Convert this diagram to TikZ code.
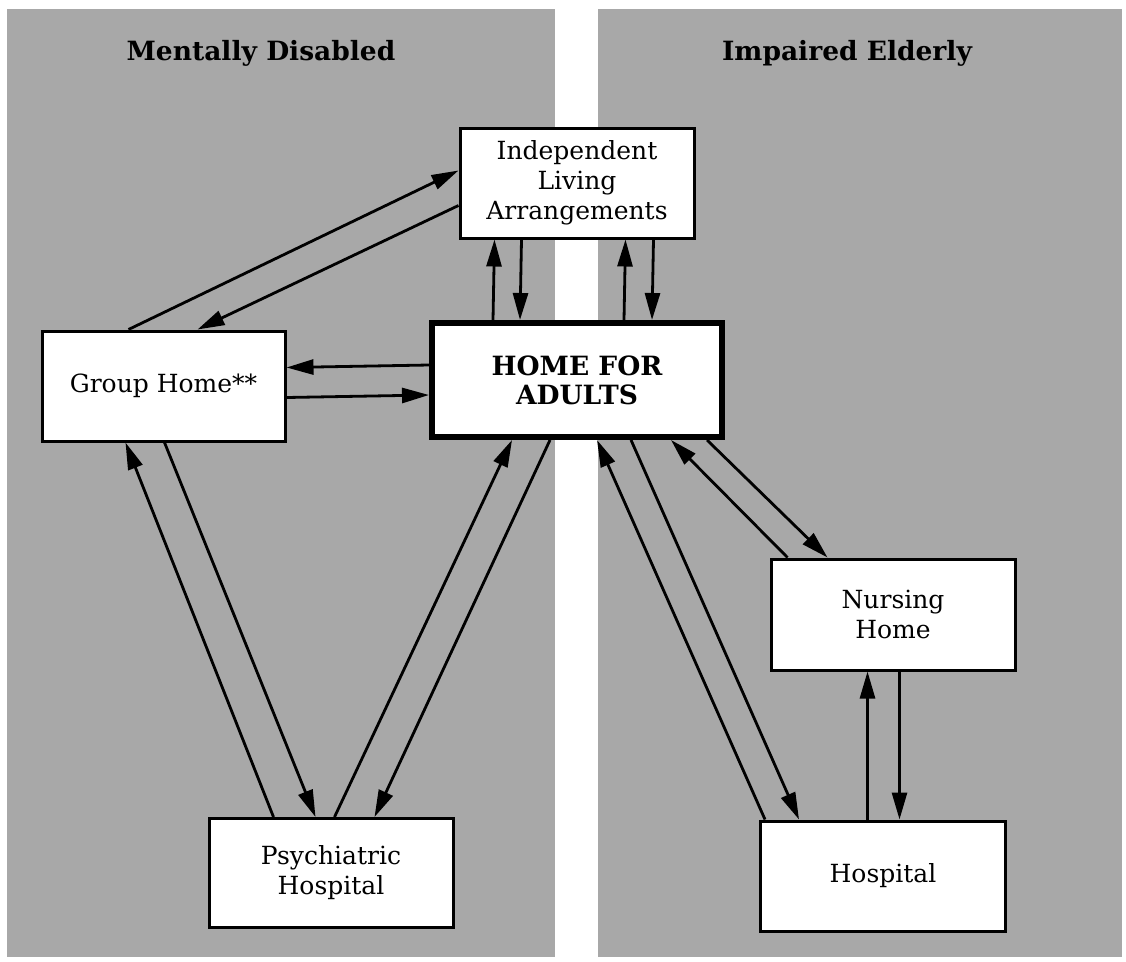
\documentclass[tikz,border=0pt]{standalone}
\usepackage{fontspec}
\setmainfont{DejaVu Serif}
\usetikzlibrary{arrows.meta,calc}
\definecolor{panelgray}{RGB}{168,168,168}
\tikzset{
  panel/.style={fill=panelgray,draw=none},
  box/.style={draw=black,fill=white,line width=3pt,align=center,inner sep=0pt,
    font=\fontsize{25}{30}\selectfont},
  mainbox/.style={box,line width=6pt,font=\bfseries\fontsize{26.5}{29}\selectfont},
  title/.style={font=\bfseries\fontsize{26.5}{30}\selectfont},
  arr/.style={line width=2.8pt,-{Triangle[length=27pt,width=15pt]}}
}
\begin{document}
\begin{tikzpicture}[x=1pt,y=-1pt]
\useasboundingbox (0,0) rectangle (1126,961);
\fill[white] (0,0) rectangle (1126,961);
\path[panel] (7,9) rectangle (555,957);
\path[panel] (598,9) rectangle (1122,957);

\node[title] (tl) at (261,53) {Mentally Disabled};
\node[title] (tr) at (847,53) {Impaired Elderly};

\node[box,minimum width=234pt,minimum height=110pt] (indep) at (577,183) {Independent\\Living\\Arrangements};
\node[mainbox,minimum width=290pt,minimum height=114pt] (home) at (577,380) {HOME FOR\\ADULTS};
\node[box,minimum width=243pt,minimum height=110pt] (gh) at (163.5,386) {Group Home**};
\node[box,minimum width=244pt,minimum height=109pt] (psych) at (331,873) {Psychiatric\\Hospital};
\node[box,minimum width=245pt,minimum height=110pt] (hosp) at (883,876) {Hospital};
\node[box,minimum width=244pt,minimum height=111pt] (nurse) at (893,614.5) {Nursing\\Home};

% Group home <-> Independent living
\draw[arr] ($(gh.north west)+(88,0)$) -- ($(indep.north west)+(0,44)$);
\draw[arr] ($(indep.north west)+(0,79)$) -- ($(gh.north west)+(157,0)$);
% Home for adults <-> Group home
\draw[arr] ($(home.north west)+(0,45)$) -- ($(gh.north east)+(0,38)$);
\draw[arr] ($(gh.north east)+(0,68)$) -- ($(home.north west)+(0,75)$);
% Home for adults <-> Independent living
\draw[arr] ($(home.north west)+(64,0)$) -- ($(indep.south west)+(36,0)$);
\draw[arr] ($(indep.south west)+(63,0)$) -- ($(home.north west)+(91,0)$);
\draw[arr] ($(home.north west)+(195,0)$) -- ($(indep.south west)+(167,0)$);
\draw[arr] ($(indep.south west)+(195,0)$) -- ($(home.north west)+(223,0)$);
% Psychiatric hospital <-> Group home
\draw[arr] ($(psych.north west)+(66,0)$) -- ($(gh.south west)+(85,0)$);
\draw[arr] ($(gh.south west)+(124,0)$) -- ($(psych.north west)+(108,0)$);
% Psychiatric hospital <-> Home for adults
\draw[arr] ($(psych.north west)+(127,0)$) -- ($(home.south west)+(83,0)$);
\draw[arr] ($(home.south west)+(121,0)$) -- ($(psych.north west)+(167,0)$);
% Hospital <-> Home for adults
\draw[arr] ($(hosp.north west)+(6,0)$) -- ($(home.south west)+(168,0)$);
\draw[arr] ($(home.south west)+(202,0)$) -- ($(hosp.north west)+(40,0)$);
% Nursing home <-> Home for adults
\draw[arr] ($(nurse.north west)+(18,0)$) -- ($(home.south west)+(242,0)$);
\draw[arr] ($(home.south west)+(278,0)$) -- ($(nurse.north west)+(58,0)$);
% Hospital <-> Nursing home
\draw[arr] ($(hosp.north west)+(108.5,0)$) -- ($(nurse.south west)+(98,0)$);
\draw[arr] ($(nurse.south west)+(130,0)$) -- ($(hosp.north west)+(140.5,0)$);
\end{tikzpicture}
\end{document}
